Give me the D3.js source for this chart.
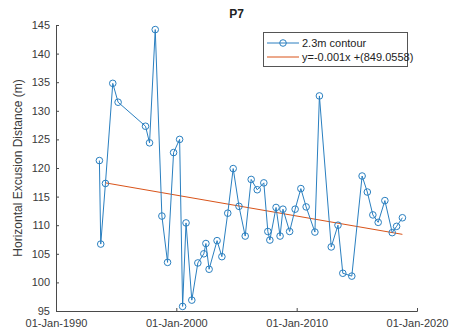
<!DOCTYPE html>
<html><head><meta charset="utf-8">
<script src="https://cdn.jsdelivr.net/npm/d3@7"></script>
<style>body{margin:0;background:#fff}svg{display:block}text{font-family:"Liberation Sans",Arial,sans-serif}</style>
</head><body><svg id="c" width="449" height="334"></svg>
<script>
const dates = ["1993-08-10","1993-09-20","1994-02-10","1994-09-20","1995-03-01","1997-06-10","1997-10-10","1998-04-01","1998-10-20","1999-04-10","1999-10-10","2000-04-10","2000-07-10","2000-10-22","2001-04-15","2001-10-15","2002-04-15","2002-06-17","2002-09-22","2003-05-22","2003-10-15","2004-04-10","2004-09-22","2005-03-17","2005-09-22","2006-03-22","2006-09-22","2007-04-10","2007-08-10","2007-10-10","2008-04-15","2008-08-15","2008-11-10","2009-06-01","2009-11-15","2010-05-08","2010-10-15","2011-07-08","2011-11-22","2012-11-15","2013-06-08","2013-11-01","2014-08-01","2015-06-10","2015-11-15","2016-05-01","2016-10-10","2017-05-01","2017-12-10","2018-04-22","2018-10-15"];
const values = [121.3,106.7,117.3,134.8,131.5,127.3,124.4,144.2,111.6,103.5,122.7,125.0,95.8,110.4,96.9,103.4,105.0,106.8,102.3,107.3,104.5,112.1,119.9,113.3,108.1,118.0,116.2,117.4,108.9,107.4,113.1,108.1,112.8,108.9,112.8,116.4,113.2,108.8,132.6,106.2,110.0,101.6,101.1,118.6,115.8,111.8,110.5,114.3,108.7,109.8,111.3];
const trendValues = [117.4, 108.4];
const xTickLabels = ["01-Jan-1990","01-Jan-2000","01-Jan-2010","01-Jan-2020"];
const yTicks = [95,100,105,110,115,120,125,130,135,140,145];
const title = "P7";
const yLabel = "Horizontal Excusion Distance (m)";
const legendLabels = ["2.3m contour","y=-0.001x +(849.0558)"];

const parse = d3.timeParse("%Y-%m-%d");
const data = dates.map((d,i)=>({date:parse(d), v:values[i]}));
const svg = d3.select("#c");
const L=56, R=417, T=25, B=311;
const x = d3.scaleTime().domain([new Date(1990,0,1), new Date(2020,0,1)]).range([L,R]);
const y = d3.scaleLinear().domain([95,145]).range([B,T]);
const axisCol = "#4a4a4a", blue="#2a7fc0", orange="#d95319";

// axes
const xTickDates = xTickLabels.map(s=>d3.timeParse("%d-%b-%Y")(s));
const xa = svg.append("g").attr("transform",`translate(0,${B})`)
  .call(d3.axisBottom(x).tickValues(xTickDates).tickSize(-3).tickPadding(6).tickFormat((d,i)=>xTickLabels[i]));
const ya = svg.append("g").attr("transform",`translate(${L},0)`)
  .call(d3.axisLeft(y).tickValues(yTicks).tickSize(-3).tickPadding(6));
[xa,ya].forEach(a=>{
  a.select(".domain").attr("stroke",axisCol);
  a.selectAll(".tick line").attr("stroke",axisCol);
  a.selectAll("text").attr("fill","#3a3a3a").style("font-size","11px").style("font-family",'"Liberation Sans",Arial,sans-serif');
});
xa.selectAll("text").attr("dy","0.9em");

// trend
const trendDates = [data[2].date, data[data.length-1].date];
svg.append("path").datum(trendDates.map((d,i)=>({date:d,v:trendValues[i]})))
  .attr("fill","none").attr("stroke",orange).attr("stroke-width",1)
  .attr("d", d3.line().x(d=>x(d.date)).y(d=>y(d.v)));

// series
svg.append("path").datum(data).attr("fill","none").attr("stroke",blue).attr("stroke-width",1)
  .attr("d", d3.line().x(d=>x(d.date)).y(d=>y(d.v)));
svg.append("g").selectAll("circle").data(data).join("circle")
  .attr("cx",d=>x(d.date)).attr("cy",d=>y(d.v)).attr("r",3.3)
  .attr("fill","none").attr("stroke",blue).attr("stroke-width",1);

// title
svg.append("text").attr("x",(L+R)/2).attr("y",18).attr("text-anchor","middle")
  .style("font-size","12px").style("font-weight","bold").attr("fill","#222").text(title);
// y label
svg.append("text").attr("transform",`translate(22,${(T+B)/2}) rotate(-90)`).attr("text-anchor","middle")
  .style("font-size","12px").attr("fill","#3a3a3a").text(yLabel);

// legend
const lg = svg.append("g");
lg.append("rect").attr("x",263.5).attr("y",32.5).attr("width",144).attr("height",34)
  .attr("fill","#fff").attr("stroke","#555").attr("stroke-width",1);
lg.append("line").attr("x1",267).attr("x2",299).attr("y1",43).attr("y2",43).attr("stroke",blue);
lg.append("circle").attr("cx",283).attr("cy",43).attr("r",3.3).attr("fill","none").attr("stroke",blue);
lg.append("line").attr("x1",267).attr("x2",299).attr("y1",57).attr("y2",57).attr("stroke",orange);
legendLabels.forEach((t,i)=>lg.append("text").attr("x",302).attr("y",47+i*14)
  .style("font-size","11px").attr("fill","#222").text(t));
</script></body></html>
